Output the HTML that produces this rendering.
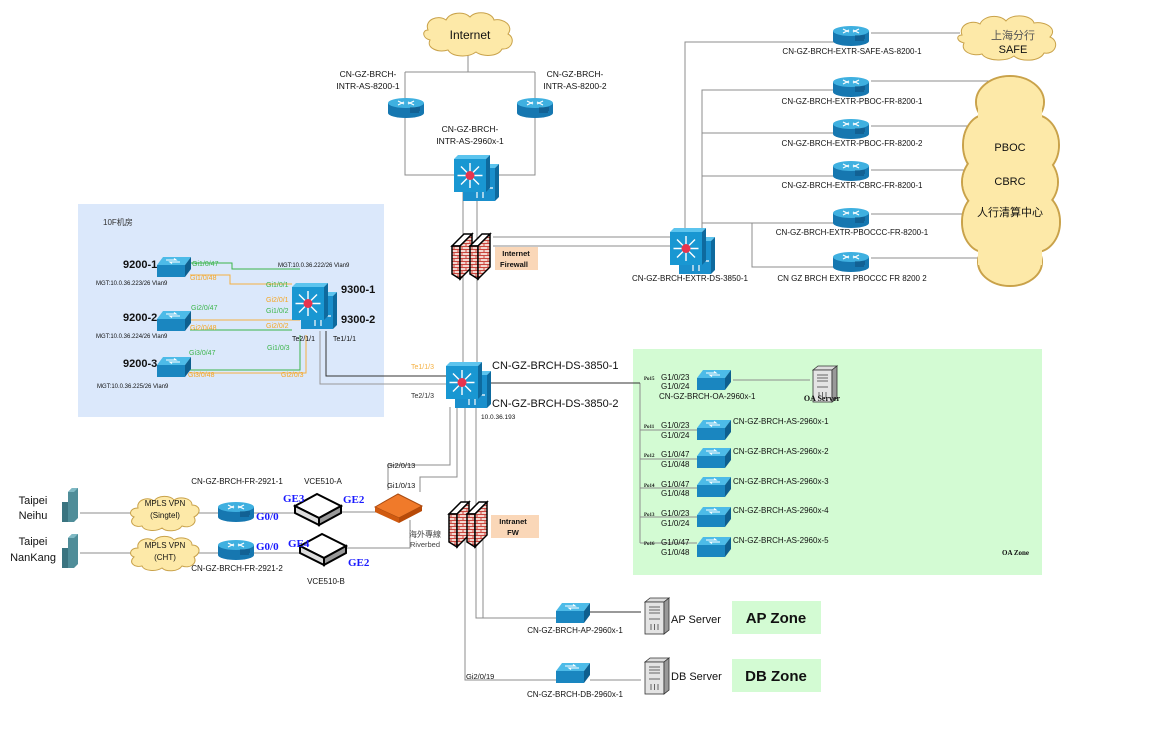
<!DOCTYPE html>
<html><head><meta charset="utf-8"><style>
html,body{margin:0;padding:0;background:#fff;}
svg{display:block;font-family:"Liberation Sans","Noto Sans CJK SC",sans-serif;}
</style></head><body>
<svg width="1163" height="734" viewBox="0 0 1163 734" xmlns="http://www.w3.org/2000/svg">
<defs>
 <g id="router">
  <rect x="0" y="5" width="36" height="10" fill="#1677b0"/>
  <ellipse cx="18" cy="15" rx="18" ry="5" fill="#1677b0"/>
  <ellipse cx="18" cy="5" rx="18" ry="5" fill="#3fb0e0"/>
  <path d="M10 3 L16 6 M26 3 L20 6 M10 7 L16 4 M26 7 L20 4" stroke="#fff" stroke-width="1.2"/>
  <path d="M22 10h10M22 12h10M22 14h9" stroke="#0b3e66" stroke-width="0.8"/>
 </g>
 <g id="sw">
  <polygon points="6,0 34,0 28,8 0,8" fill="#4dbbe8"/>
  <polygon points="0,8 28,8 28,20 0,20" fill="#1a86c0"/>
  <polygon points="28,8 34,0 34,12 28,20" fill="#0e5f8f"/>
  <path d="M9 3h10l-2-1.5M23 5H13l2 1.5" stroke="#fff" stroke-width="1.1" fill="none"/>
 </g>
 <g id="l3">
  <g transform="translate(9,9)">
   <polygon points="0,4 4,0 36,0 32,4" fill="#5cc4ee"/>
   <rect x="0" y="4" width="32" height="33" fill="#1a8fcc"/>
   <polygon points="32,4 36,0 36,33 32,37" fill="#0e6a9e"/>
   <path d="M14 28v6M20 28v6M26 24h4" stroke="#fff" stroke-width="1.2"/>
  </g>
  <polygon points="0,4 4,0 36,0 32,4" fill="#5cc4ee"/>
  <rect x="0" y="4" width="32" height="33" fill="#1997d2"/>
  <polygon points="32,4 36,0 36,33 32,37" fill="#0e6a9e"/>
  <path d="M16 8v25M3.5 20.5h25M7 11.5l18 18M25 11.5l-18 18" stroke="#fff" stroke-width="1.4"/>
  <circle cx="16" cy="20.5" r="4.5" fill="#e8344e"/>
 </g>
 <pattern id="brick" width="8" height="6" patternUnits="userSpaceOnUse">
  <rect width="8" height="6" fill="#f3d6cf"/>
  <path d="M0 0.5h8M0 3.5h8M2 0.5v3M6 3.5v3" stroke="#c9453d" stroke-width="1"/>
 </pattern>
 <g id="fw">
  <polygon points="0,12 12,0 20,0 8,12" fill="#fff" stroke="#000" stroke-width="1.5"/>
  <polygon points="0,12 8,12 8,45 0,40" fill="url(#brick)" stroke="#000" stroke-width="1.5"/>
  <polygon points="8,12 20,0 20,33 8,45" fill="url(#brick)" stroke="#000" stroke-width="1.5"/>
  <g transform="translate(18,0)">
   <polygon points="0,12 12,0 20,0 8,12" fill="#fff" stroke="#000" stroke-width="1.5"/>
   <polygon points="0,12 8,12 8,45 0,40" fill="url(#brick)" stroke="#000" stroke-width="1.5"/>
   <polygon points="8,12 20,0 20,33 8,45" fill="url(#brick)" stroke="#000" stroke-width="1.5"/>
  </g>
 </g>
 <g id="srv">
  <polygon points="0,4 5,0 24,0 19,4" fill="#ddd" stroke="#333" stroke-width="0.8"/>
  <rect x="0" y="4" width="19" height="32" fill="#e4e4e4" stroke="#333" stroke-width="0.8"/>
  <polygon points="19,4 24,0 24,32 19,36" fill="#999" stroke="#333" stroke-width="0.8"/>
  <path d="M4 9h11M4 12h11M4 15h11M4 21h11M6 26v6M9.5 26v6M13 26v6" stroke="#666" stroke-width="1"/>
 </g>
 <g id="bld">
  <polygon points="6,4 10,0 16,0 16,30 12,34 6,34" fill="#4f8d99"/>
  <polygon points="0,14 6,14 6,34 0,34" fill="#3a7480"/>
  <polygon points="10,0 16,0 12,4 6,4" fill="#7fb9c4"/>
 </g>
 <g id="vce">
  <polygon points="0,12 22,0 46,12 24,24" fill="#fff" stroke="#000" stroke-width="2"/>
  <polygon points="0,12 24,24 24,31 0,19" fill="#ddd" stroke="#000" stroke-width="2"/>
  <polygon points="24,24 46,12 46,19 24,31" fill="#999" stroke="#000" stroke-width="2"/>
 </g>
</defs>

<rect x="78" y="204" width="306" height="213" fill="#dbe8fb"/>
<rect x="633" y="349" width="409" height="226" fill="#d3fbd3"/>
<rect x="732" y="601" width="89" height="33" fill="#d3fbd3"/>
<rect x="732" y="659" width="89" height="33" fill="#d3fbd3"/>

<g stroke="#8c8c8c" stroke-width="1" fill="none">
 <path d="M468 55V72M405 72H535M405 72V175H457M535 72V175H485"/>
 <path d="M463 190V362M477 190V362"/>
 <path d="M493 237H672M493 246H672"/>
 <path d="M685 230V42H835M702 228V90H835M702 133H835M702 176H835M702 223H835M752 223V267H835"/>
 <path d="M871 33H960M871 81H1000M871 126H985M871 170H1000M871 214H1000M871 258H1000"/>
 <path d="M450 407V465H388V490M457 407V477H420V492M465 407V680H560M476 407V618H560"/>
 <path d="M483 540V618"/>
 <path d="M80 513H135M80 553H135M195 513H219M195 553H219M254 513H296M254 553H300M340 512H380M346 548H410V520"/>
 <path d="M590 680H641"/>
 <path d="M733 380H810"/>
 <path d="M640 383V543M640 430H697M640 459H697M640 488H697M640 517H697M640 543H697"/>
</g>
<g stroke="#333" stroke-width="1" fill="none">
 <path d="M326 331V376H446M488 383H640M590 612H641"/>
</g>
<path d="M320 331V384H446" stroke="#999" fill="none"/>
<g fill="none" stroke-width="1">
 <path d="M190 263H232V269H300M190 330H292M190 370H300V335" stroke="#3bb54a"/>
 <path d="M190 275H230V284H292M190 320H300M190 373H306V335" stroke="#f5b041"/>
</g>

<g fill="#fde9a8" stroke="#c9a24a" stroke-width="1">
 <path d="M428 30c-4-10 10-16 18-10c4-8 18-9 24-3c6-7 22-5 24 3c10-2 20 6 14 14c8 4 4 16-6 15c-4 8-20 8-26 3c-8 6-24 5-28-2c-10 3-22-2-18-10c-8-2-8-10-2-10z"/>
 <path d="M962 35c-4-10 10-16 18-11c4-9 20-10 26-3c6-8 26-6 28 2c12-2 24 6 16 14c10 4 6 18-6 16c-4 9-24 9-30 3c-8 6-28 5-32-2c-10 3-22-3-18-11c-8-2-8-8-2-8z"/>
 <path d="M138 508c-2-8 10-12 16-7c4-6 16-6 20-1c6-4 18-2 18 5c8 0 10 8 2 12c4 6-4 12-12 9c-4 6-16 6-20 2c-6 4-18 3-20-2c-8 2-14-4-8-9c-6-2-4-9 4-9z"/>
 <path d="M138 548c-2-8 10-12 16-7c4-6 16-6 20-1c6-4 18-2 18 5c8 0 10 8 2 12c4 6-4 12-12 9c-4 6-16 6-20 2c-6 4-18 3-20-2c-8 2-14-4-8-9c-6-2-4-9 4-9z"/>
</g>
<g fill="#fde9a8" stroke="#c9a24a" stroke-width="2">
 <ellipse cx="1010" cy="102" rx="34" ry="26"/>
 <ellipse cx="985" cy="145" rx="22" ry="30"/>
 <ellipse cx="1035" cy="145" rx="24" ry="30"/>
 <ellipse cx="1010" cy="182" rx="48" ry="38"/>
 <ellipse cx="984" cy="222" rx="22" ry="30"/>
 <ellipse cx="1036" cy="222" rx="24" ry="30"/>
 <ellipse cx="1010" cy="262" rx="32" ry="24"/>
</g>
<g fill="#fde9a8">
 <ellipse cx="1010" cy="102" rx="33" ry="25"/>
 <ellipse cx="985" cy="145" rx="21" ry="29"/>
 <ellipse cx="1035" cy="145" rx="23" ry="29"/>
 <ellipse cx="1010" cy="182" rx="47" ry="37"/>
 <ellipse cx="984" cy="222" rx="21" ry="29"/>
 <ellipse cx="1036" cy="222" rx="23" ry="29"/>
 <ellipse cx="1010" cy="262" rx="31" ry="23"/>
 <rect x="978" y="100" width="64" height="165"/>
</g>

<use href="#router" x="388" y="98"/>
<use href="#router" x="517" y="98"/>
<use href="#l3" x="454" y="155"/>
<use href="#fw" x="452" y="234"/>
<use href="#l3" x="670" y="228"/>
<use href="#router" x="833" y="26"/>
<use href="#router" x="833" y="77"/>
<use href="#router" x="833" y="119"/>
<use href="#router" x="833" y="161"/>
<use href="#router" x="833" y="208"/>
<use href="#router" x="833" y="252"/>
<use href="#sw" x="157" y="257"/>
<use href="#sw" x="157" y="311"/>
<use href="#sw" x="157" y="357"/>
<use href="#l3" x="292" y="283"/>
<use href="#l3" x="446" y="362"/>
<use href="#sw" x="697" y="370"/>
<use href="#sw" x="697" y="420"/>
<use href="#sw" x="697" y="448"/>
<use href="#sw" x="697" y="477"/>
<use href="#sw" x="697" y="507"/>
<use href="#sw" x="697" y="537"/>
<use href="#srv" x="813" y="366"/>
<use href="#fw" x="449" y="502"/>
<use href="#sw" x="556" y="603"/>
<use href="#sw" x="556" y="663"/>
<use href="#srv" x="645" y="598"/>
<use href="#srv" x="645" y="658"/>
<use href="#bld" x="62" y="488"/>
<use href="#bld" x="62" y="534"/>
<use href="#router" x="218" y="502"/>
<use href="#router" x="218" y="540"/>
<use href="#vce" x="295" y="494"/>
<use href="#vce" x="300" y="534"/>
<polygon points="375,507 398,494 422,506 399,518" fill="#f07a2a" stroke="#a84a10"/>
<polygon points="375,507 399,518 399,523 375,512" fill="#d05a10"/>
<polygon points="399,518 422,506 422,511 399,523" fill="#b84a08"/>

<rect x="495" y="247" width="43" height="23" fill="#fad7b8"/>
<rect x="491" y="515" width="48" height="23" fill="#fad7b8"/>

<g font-size="8.5" fill="#111" text-anchor="middle">
 <text x="470" y="39" font-size="12">Internet</text>
 <text x="368" y="77">CN-GZ-BRCH-</text><text x="368" y="89">INTR-AS-8200-1</text>
 <text x="575" y="77">CN-GZ-BRCH-</text><text x="575" y="89">INTR-AS-8200-2</text>
 <text x="470" y="132">CN-GZ-BRCH-</text><text x="470" y="144">INTR-AS-2960x-1</text>
 <text x="852" y="54" font-size="8">CN-GZ-BRCH-EXTR-SAFE-AS-8200-1</text>
 <text x="852" y="104" font-size="8">CN-GZ-BRCH-EXTR-PBOC-FR-8200-1</text>
 <text x="852" y="146" font-size="8">CN-GZ-BRCH-EXTR-PBOC-FR-8200-2</text>
 <text x="852" y="188" font-size="8">CN-GZ-BRCH-EXTR-CBRC-FR-8200-1</text>
 <text x="852" y="235" font-size="8">CN-GZ-BRCH-EXTR-PBOCCC-FR-8200-1</text>
 <text x="852" y="281" font-size="8">CN GZ BRCH EXTR PBOCCC FR 8200 2</text>
 <text x="690" y="281" font-size="8">CN-GZ-BRCH-EXTR-DS-3850-1</text>
 <text x="1013" y="39" font-size="11" fill="#555">上海分行</text>
 <text x="1013" y="53" font-size="11">SAFE</text>
 <text x="1010" y="151" font-size="11">PBOC</text>
 <text x="1010" y="185" font-size="11">CBRC</text>
 <text x="1010" y="216" font-size="11">人行清算中心</text>
 <text x="516" y="256" font-size="7.5" font-weight="bold">Internet</text>
 <text x="514" y="267" font-size="7.5" font-weight="bold">Firewall</text>
 <text x="513" y="524" font-size="7.5" font-weight="bold">Intranet</text>
 <text x="513" y="535" font-size="7.5" font-weight="bold">FW</text>
 <text x="575" y="633" font-size="8">CN-GZ-BRCH-AP-2960x-1</text>
 <text x="575" y="697" font-size="8">CN-GZ-BRCH-DB-2960x-1</text>
 <text x="776" y="623" font-size="15" font-weight="bold">AP Zone</text>
 <text x="776" y="681" font-size="15" font-weight="bold">DB Zone</text>
 <text x="822" y="401" font-size="8" font-weight="bold" font-family="Liberation Serif,serif">OA Server</text>
 <text x="237" y="484" font-size="8">CN-GZ-BRCH-FR-2921-1</text>
 <text x="237" y="571" font-size="8">CN-GZ-BRCH-FR-2921-2</text>
 <text x="323" y="484" font-size="8">VCE510-A</text>
 <text x="326" y="584" font-size="8">VCE510-B</text>
 <text x="165" y="506" font-size="8">MPLS VPN</text><text x="165" y="518" font-size="8">(Singtel)</text>
 <text x="165" y="548" font-size="8">MPLS VPN</text><text x="165" y="560" font-size="8">(CHT)</text>
 <text x="33" y="504" font-size="11">Taipei</text><text x="33" y="519" font-size="11">Neihu</text>
 <text x="33" y="545" font-size="11">Taipei</text><text x="33" y="561" font-size="11">NanKang</text>
 <text x="425" y="537" font-size="8" fill="#444">海外專線</text>
 <text x="425" y="547" font-size="7.5" fill="#444">Riverbed</text>
</g>
<g font-size="8.5" fill="#111">
 <text x="671" y="623" font-size="11">AP Server</text>
 <text x="671" y="680" font-size="11">DB Server</text>
 <text x="466" y="679" font-size="7.5">Gi2/0/19</text>
 <text x="387" y="468" font-size="7.5">Gi2/0/13</text>
 <text x="387" y="488" font-size="7.5">Gi1/0/13</text>
 <text x="492" y="369" font-size="11">CN-GZ-BRCH-DS-3850-1</text>
 <text x="492" y="407" font-size="11">CN-GZ-BRCH-DS-3850-2</text>
 <text x="481" y="419" font-size="6.5">10.0.36.193</text>
 <text x="411" y="369" font-size="7" fill="#f5b041">Te1/1/3</text>
 <text x="411" y="398" font-size="7" fill="#333">Te2/1/3</text>
 <text x="1002" y="555" font-size="7" font-weight="bold" font-family="Liberation Serif,serif">OA Zone</text>
 <text x="103" y="225" font-size="8" fill="#333">10F机房</text>
 <text x="123" y="268" font-size="11" font-weight="bold">9200-1</text>
 <text x="123" y="321" font-size="11" font-weight="bold">9200-2</text>
 <text x="123" y="367" font-size="11" font-weight="bold">9200-3</text>
 <text x="96" y="285" font-size="6">MGT:10.0.36.223/26 Vlan9</text>
 <text x="96" y="338" font-size="6">MGT:10.0.36.224/26 Vlan9</text>
 <text x="97" y="388" font-size="6">MGT:10.0.36.225/26 Vlan9</text>
 <text x="278" y="267" font-size="6">MGT:10.0.36.222/26 Vlan9</text>
 <text x="341" y="293" font-size="11" font-weight="bold">9300-1</text>
 <text x="341" y="323" font-size="11" font-weight="bold">9300-2</text>
 <text x="292" y="341" font-size="7">Te2/1/1</text>
 <text x="333" y="341" font-size="7">Te1/1/1</text>
 <g font-size="7" fill="#3bb54a">
  <text x="192" y="266">Gi1/0/47</text><text x="266" y="287">Gi1/0/1</text>
  <text x="191" y="310">Gi2/0/47</text><text x="266" y="313">Gi1/0/2</text>
  <text x="189" y="355">Gi3/0/47</text><text x="267" y="350">Gi1/0/3</text>
 </g>
 <g font-size="7" fill="#f5a623">
  <text x="190" y="280">Gi1/0/48</text><text x="266" y="302">Gi2/0/1</text>
  <text x="190" y="330">Gi2/0/48</text><text x="266" y="328">Gi2/0/2</text>
  <text x="188" y="377">Gi3/0/48</text><text x="281" y="377">Gi2/0/3</text>
 </g>
 <g font-family="Liberation Serif,serif" font-weight="bold" fill="#1a1aff" font-size="11">
  <text x="283" y="502">GE3</text><text x="343" y="503">GE2</text>
  <text x="256" y="520">G0/0</text><text x="256" y="550">G0/0</text>
  <text x="288" y="547">GE4</text><text x="348" y="566">GE2</text>
 </g>
 <g font-size="8">
  <text x="661" y="380">G1/0/23</text><text x="661" y="389">G1/0/24</text>
  <text x="659" y="399">CN-GZ-BRCH-OA-2960x-1</text>
  <text x="661" y="428">G1/0/23</text><text x="661" y="438">G1/0/24</text>
  <text x="661" y="457">G1/0/47</text><text x="661" y="467">G1/0/48</text>
  <text x="661" y="487">G1/0/47</text><text x="661" y="496">G1/0/48</text>
  <text x="661" y="516">G1/0/23</text><text x="661" y="526">G1/0/24</text>
  <text x="661" y="545">G1/0/47</text><text x="661" y="555">G1/0/48</text>
  <text x="733" y="424">CN-GZ-BRCH-AS-2960x-1</text>
  <text x="733" y="454">CN-GZ-BRCH-AS-2960x-2</text>
  <text x="733" y="484">CN-GZ-BRCH-AS-2960x-3</text>
  <text x="733" y="513">CN-GZ-BRCH-AS-2960x-4</text>
  <text x="733" y="543">CN-GZ-BRCH-AS-2960x-5</text>
 </g>
 <g font-size="5" font-family="Liberation Serif,serif" font-weight="bold">
  <text x="644" y="380">Po15</text><text x="644" y="428">Po11</text>
  <text x="644" y="457">Po12</text><text x="644" y="487">Po14</text>
  <text x="644" y="516">Po13</text><text x="644" y="545">Po16</text>
 </g>
</g>
</svg>
</body></html>
